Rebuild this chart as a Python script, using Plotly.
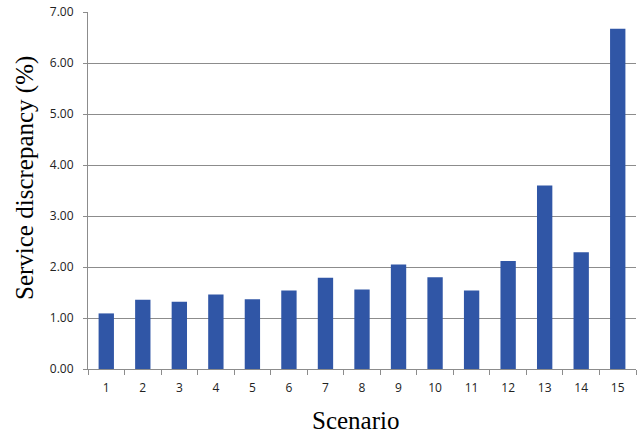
import plotly.graph_objects as go

scenarios = [str(i) for i in range(1, 16)]
discrepancy = [1.09, 1.36, 1.32, 1.46, 1.37, 1.54, 1.79, 1.56, 2.05, 1.80, 1.54, 2.12, 3.60, 2.29, 6.67]
y_ticks = [0, 1, 2, 3, 4, 5, 6, 7]
y_tick_text = [f"{v:.2f}" for v in y_ticks]

W, H = 639, 433
l, r, t, b = 88, 3, 12, 64
pw, ph = W - l - r, H - t - b


def px_to_paper(px, py):
    return (px - l) / pw, (H - b - py) / ph


fig = go.Figure()
fig.add_trace(go.Bar(
    x=scenarios, y=discrepancy,
    marker=dict(color="#3056A6", line=dict(width=0)),
))

yx, yy = px_to_paper(25, 178)
xx, xy = px_to_paper(355, 420)

fig.update_layout(
    width=W, height=H,
    margin=dict(l=l, r=r, t=t, b=b),
    paper_bgcolor="white", plot_bgcolor="white",
    bargap=0.58,
    showlegend=False,
    font=dict(family="Open Sans", size=12, color="#222"),
    xaxis=dict(
        type="category",
        showline=True, linecolor="#8c8c8c", linewidth=1,
        ticks="outside", tickson="boundaries", ticklen=5, tickcolor="#8c8c8c",
        showgrid=False,
        ticklabelstandoff=8,
        tickfont=dict(family="Open Sans", size=12, color="#222"),
    ),
    yaxis=dict(
        range=[0, 7],
        tickvals=y_ticks, ticktext=y_tick_text,
        showline=True, linecolor="#8c8c8c", linewidth=1,
        ticks="outside", ticklen=4, tickcolor="#8c8c8c",
        showgrid=True, gridcolor="#8c8c8c", gridwidth=1,
        zeroline=False,
        ticklabelstandoff=7,
        tickfont=dict(family="Open Sans", size=12, color="#222"),
    ),
    annotations=[
        dict(text="Service discrepancy (%)", x=yx, y=yy, xref="paper", yref="paper",
             xanchor="center", yanchor="middle", showarrow=False, textangle=-90,
             font=dict(family="Liberation Serif", size=25, color="#000")),
        dict(text="Scenario", x=xx, y=xy, xref="paper", yref="paper",
             xanchor="center", yanchor="middle", showarrow=False,
             font=dict(family="Liberation Serif", size=25, color="#000")),
    ],
)

fig.write_html("out.html", config={"displayModeBar": False},
               post_script="document.body.style.margin='0';document.body.style.overflow='hidden';")
